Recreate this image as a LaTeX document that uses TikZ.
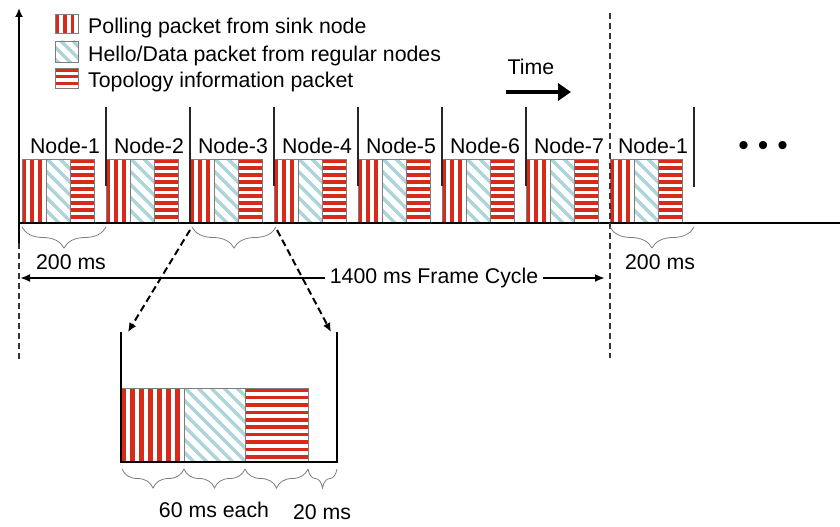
\documentclass[tikz,border=0pt]{standalone}
\usepackage{fontspec}
\setmainfont{Liberation Sans}
\usetikzlibrary{arrows.meta,decorations.pathreplacing}
\definecolor{pred}{RGB}{214,42,26}
\definecolor{pblue}{RGB}{172,213,217}
\definecolor{pgray}{RGB}{125,125,125}
\tikzset{
  pktline/.style={pgray, line width=0.6pt},
  sepline/.style={black!85, line width=1.1pt},
  bracestyle/.style={pgray, line width=0.8pt, decorate, decoration={brace, mirror, amplitude=#1}},
  dashline/.style={black!80, line width=1.2pt, dash pattern=on 6pt off 4pt},
  framearrow/.style={line width=2pt, -{Latex[length=10pt,width=8pt]}},
  zoomarrow/.style={line width=2pt, dash pattern=on 7pt off 4pt, -{Latex[length=9pt,width=8pt]}},
  lbl/.style={inner sep=0pt},
}
% vertical red stripes: x1 y1 x2 y2 period
\newcommand{\vpkt}[5]{%
  \fill[white] (#1,#2) rectangle (#3,#4);
  \begin{scope}
    \clip (#1,#2) rectangle (#3,#4);
    \foreach \i in {0,...,12}
      \fill[pred] ({#1+0.3+\i*#5},#2) rectangle ({#1+0.3+\i*#5+0.5*#5},#4);
  \end{scope}
  \draw[pktline] (#1,#2) rectangle (#3,#4);
}
% horizontal red stripes
\newcommand{\hpkt}[5]{%
  \fill[white] (#1,#2) rectangle (#3,#4);
  \begin{scope}
    \clip (#1,#2) rectangle (#3,#4);
    \foreach \i in {0,...,16}
      \fill[pred] (#1,{#2+0.3+\i*#5}) rectangle (#3,{#2+0.3+\i*#5+0.5*#5});
  \end{scope}
  \draw[pktline] (#1,#2) rectangle (#3,#4);
}
% diagonal light-blue hatching
\newcommand{\dpkt}[5]{%
  \fill[white] (#1,#2) rectangle (#3,#4);
  \begin{scope}
    \clip (#1,#2) rectangle (#3,#4);
    \foreach \i in {0,...,16}
      \draw[pblue, line width=3.2pt] ({#1-90+\i*#5},#2) -- ++(100,100);
  \end{scope}
  \draw[pktline] (#1,#2) rectangle (#3,#4);
}
\newcommand{\slotpk}[1]{%
  \vpkt{#1}{159}{#1+24}{223}{8}%
  \dpkt{#1+24}{159}{#1+48}{223}{13}%
  \hpkt{#1+48}{159}{#1+72}{223}{7}%
}
\begin{document}
\begin{tikzpicture}[x=1pt,y=-1pt,font=\fontsize{21.3}{25}\selectfont]
\useasboundingbox (0,0) rectangle (840,527);

% legend
\vpkt{55}{14}{78}{33}{7.6}
\dpkt{55}{41}{78}{62}{12}
\hpkt{55}{68}{78}{88}{6.6}
\node[lbl, anchor=base west] (leg1) at (88,34) {Polling packet from sink node};
\node[lbl, anchor=base west] (leg2) at (88,62) {Hello/Data packet from regular nodes};
\node[lbl, anchor=base west] (leg3) at (88,88) {Topology information packet};

% time arrow
\node (time) at (531,67) {Time};
\coordinate (t1) at (506,92);
\coordinate (t2) at (571,92);
\draw[line width=4pt, -{Triangle[length=13pt,width=17pt]}] (t1) -- (t2);

% slots of the frame
\foreach \k/\lab in {0/1,1/2,2/3,3/4,4/5,5/6,6/7}{
  \pgfmathsetmacro{\sx}{22+84*\k}
  \slotpk{\sx}
  \node (node\k) at (\sx+43,146) {Node-\lab};
}
\slotpk{610}
\node (node7) at (653,146) {Node-1};

% separators
\foreach \xx in {106,274,358,442,526}{
  \draw[sepline] (\xx,107) -- (\xx,186);
}
\draw[sepline] (190,107) -- (190,223);
\draw[sepline] (694,107) -- (694,187);

% dots
\node (dots) at (763,148) {\fontsize{30}{32}\selectfont\textbullet\hspace{9pt}\textbullet\hspace{9pt}\textbullet};

% time axis baseline and vertical axis
\coordinate (a0) at (19,243);
\coordinate (a1) at (19,8);
\coordinate (a2) at (19,360);
\draw[line width=1.4pt] (18,223) -- (840,223);
\draw[line width=2pt, -{Latex[length=9pt,width=8pt]}] (a0) -- (a1);
\draw[dashline] (a0) -- (a2);
\coordinate (d1) at (610,13);
\coordinate (d2) at (610,358);
\draw[dashline] (d1) -- (d2);

% braces and labels
\draw[bracestyle=21pt] (22,227) -- (106,227);
\node (ms1) at (71,262) {200 ms};
\draw[bracestyle=21pt] (192,227) -- (276,227);
\draw[bracestyle=21pt] (610,227) -- (694,227);
\node (ms2) at (660,262) {200 ms};

% frame cycle
\node[inner sep=5pt] (fc) at (434,278) {1400 ms Frame Cycle};
\coordinate (fl) at (20,278);
\coordinate (fr) at (605,278);
\draw[framearrow] (fc.west) -- (fl);
\draw[framearrow] (fc.east) -- (fr);

% zoomed slot
\coordinate (zs1) at (190,230);
\coordinate (zs2) at (277,230);
\coordinate (zl) at (128,332);
\coordinate (zr) at (331,332);
\draw[zoomarrow] (zs1) -- (zl);
\draw[zoomarrow] (zs2) -- (zr);

\vpkt{121}{388}{184}{462}{9}
\dpkt{184}{388}{245}{462}{13}
\hpkt{245}{388}{308}{462}{7.4}
\draw[line width=1.2pt] (121,332) -- (121,462) -- (337,462) -- (337,332);

\draw[bracestyle=19pt] (122,469) -- (184,469);
\draw[bracestyle=19pt] (184,469) -- (245,469);
\draw[bracestyle=19pt] (245,469) -- (308,469);
\draw[bracestyle=19pt] (308,469) -- (337,469);
\node (m60) at (214,510) {60 ms each};
\node (m20) at (322,512) {20 ms};
\end{tikzpicture}
\end{document}
